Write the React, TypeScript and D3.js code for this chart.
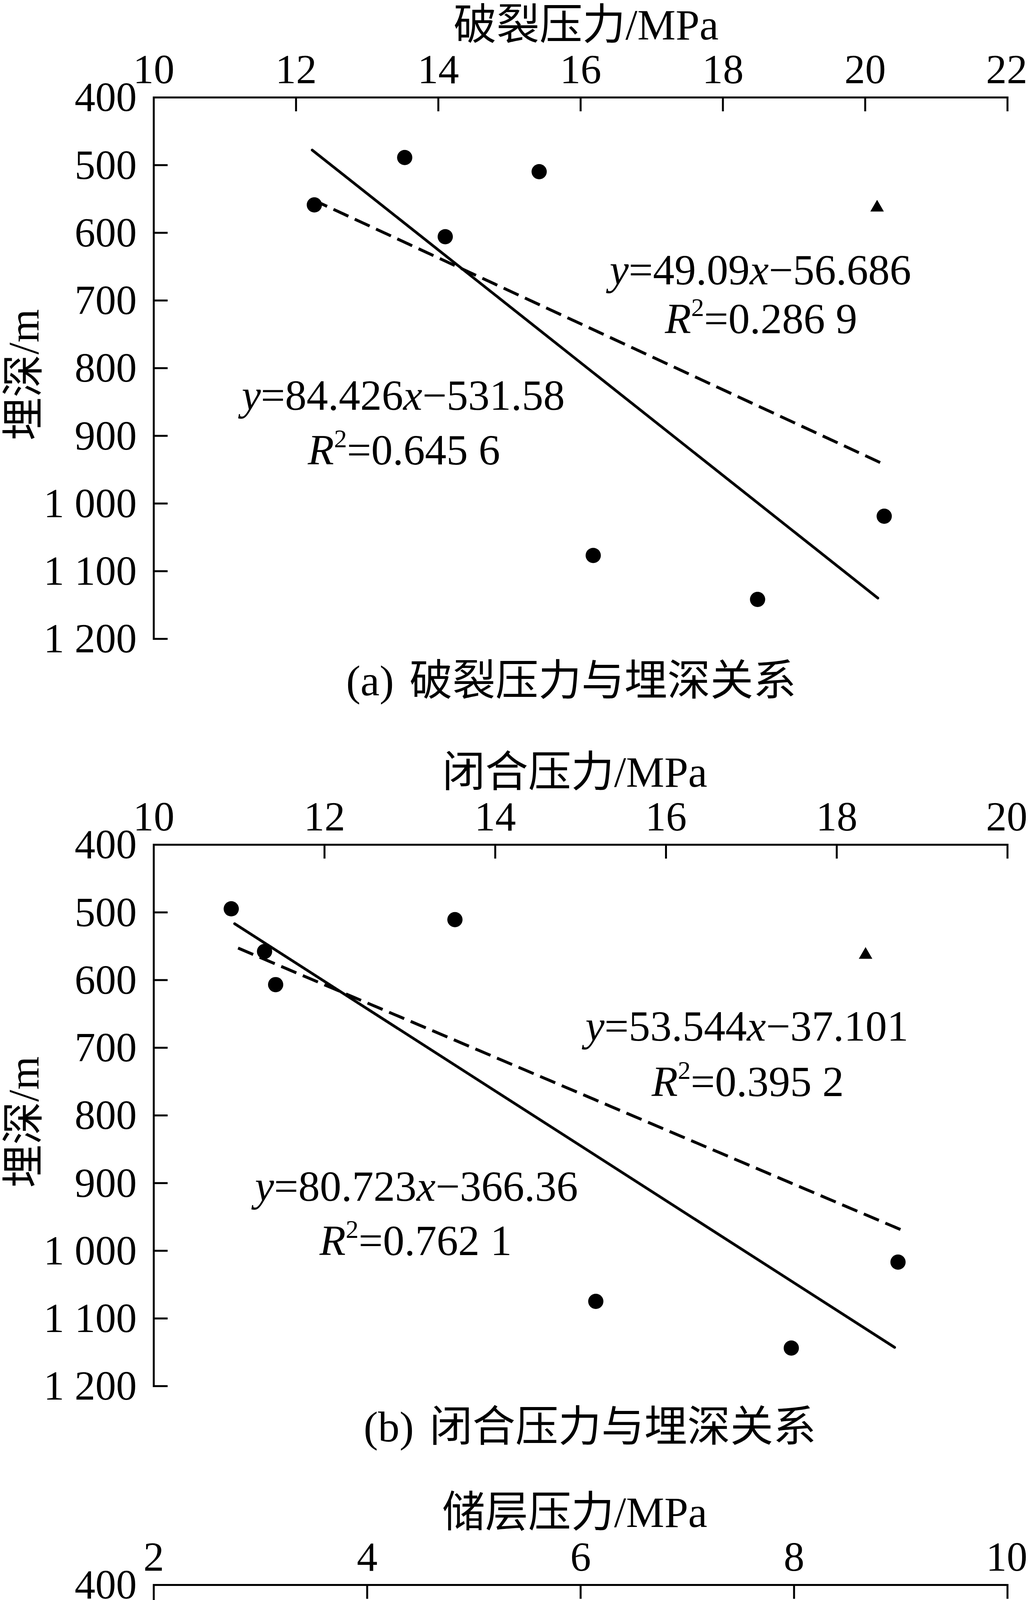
import { useRef, useEffect } from 'react';
import * as d3 from 'd3';

const depthTicks = [400, 500, 600, 700, 800, 900, 1000, 1100, 1200];

// (a) 破裂压力
const fracTicks = [10, 12, 14, 16, 18, 20, 22];
const fracPressure = [12.26, 13.53, 15.42, 14.1, 20.27, 16.18, 18.49];
const fracDepth = [559, 489, 510, 606, 1019, 1077, 1142];
const fracTriangle = [20.17, 563];
const fracDashed = [[12.23, 551], [20.28, 943]];
const fracSolid = [[12.23, 478], [20.18, 1140]];
const fracLabels = ['y=49.09x−56.686', '0.286 9', 'y=84.426x−531.58', '0.645 6'];

// (b) 闭合压力
const closeTicks = [10, 12, 14, 16, 18, 20];
const closePressure = [10.91, 13.53, 11.3, 11.43, 18.72, 15.18, 17.47];
const closeDepth = [495, 511, 558, 607, 1017, 1075, 1144];
const closeTriangle = [18.34, 563];
const closeDashed = [[10.99, 553], [18.77, 970]];
const closeSolid = [[10.95, 517], [18.68, 1143]];
const closeLabels = ['y=53.544x−37.101', '0.395 2', 'y=80.723x−366.36', '0.762 1'];

// (c) 储层压力
const resTicks = [2, 4, 6, 8, 10];
const resPressure = [3.08, 5.05, 3.88, 4.02, 9.58, 9.71, 8.77];
const resDepth = [497, 512, 556, 605, 1017, 1072, 1142];
const resTriangle = [5.44, 563];
const resDashed = [[3.13, 448], [9.8, 1090]];
const resSolid = [[3.07, 466], [9.75, 1094]];
const resLabels = ['y=96.188x+147.01', '0.891 8', 'y=94.366x+173.77', '0.909 6'];

const W = 2631;
const H = 5742;
const AXIS_L = 393;
const AXIS_R = 2578;
const PANEL_H = 1386;
const FS = 110;
const TICK_FS = 106;
const FONT = "'Liberation Serif', 'Times New Roman', 'Noto Sans CJK SC', serif";

const panels = [
  {
    top: 249, title: '破裂压力/MPa', tag: '(a)', caption: '破裂压力与埋深关系',
    ticks: fracTicks, pressure: fracPressure, depth: fracDepth, triangle: fracTriangle,
    dashed: fracDashed, solid: fracSolid, labels: fracLabels,
    // label anchors in data units: dashed eq, dashed R2, solid eq, solid R2
    anchors: [[18.53, 655], [18.54, 727], [13.51, 840], [13.52, 921]],
    captionX: 1462, captionY: 1740, titleX: 1500
  },
  {
    top: 2162, title: '闭合压力/MPa', tag: '(b)', caption: '闭合压力与埋深关系',
    ticks: closeTicks, pressure: closePressure, depth: closeDepth, triangle: closeTriangle,
    dashed: closeDashed, solid: closeSolid, labels: closeLabels,
    anchors: [[16.95, 668], [16.96, 750], [13.08, 905], [13.07, 985]],
    captionX: 1510, captionY: 3650, titleX: 1471
  },
  {
    top: 4057, title: '储层压力/MPa', tag: '(c)', caption: '储层压力与埋深关系',
    ticks: resTicks, pressure: resPressure, depth: resDepth, triangle: resTriangle,
    dashed: resDashed, solid: resSolid, labels: resLabels,
    anchors: [[7.59, 641], [7.63, 717], [5.28, 872], [5.29, 947]],
    captionX: 1568, captionY: 5650, titleX: 1471
  }
];

const fmtDepth = (d: number) =>
  d >= 1000 ? `${Math.floor(d / 1000)} ${String(d % 1000).padStart(3, '0')}` : String(d);

export default function App() {
  const svgRef = useRef<SVGSVGElement>(null);

  useEffect(() => {
    if (!svgRef.current) return;
    const svg = d3.select(svgRef.current);
    svg.selectAll('*').remove();

    svg.append('rect').attr('width', W).attr('height', H).attr('fill', '#fff');

    panels.forEach(p => {
      const g = svg.append('g');
      const x = d3.scaleLinear()
        .domain([p.ticks[0], p.ticks[p.ticks.length - 1]])
        .range([AXIS_L, AXIS_R]);
      const y = d3.scaleLinear()
        .domain([depthTicks[0], depthTicks[depthTicks.length - 1]])
        .range([p.top, p.top + PANEL_H]);

      // top x axis, ticks pointing down into the plot
      const xAxis = g.append('g')
        .attr('transform', `translate(0,${p.top})`)
        .call(d3.axisTop(x).tickValues(p.ticks).tickSizeInner(-36).tickSizeOuter(0).tickPadding(36));

      // left y axis, ticks pointing right
      const yAxis = g.append('g')
        .attr('transform', `translate(${AXIS_L},0)`)
        .call(d3.axisLeft(y).tickValues(depthTicks).tickFormat(d => fmtDepth(+d))
          .tickSizeInner(-36).tickSizeOuter(0).tickPadding(43));

      [xAxis, yAxis].forEach(a => {
        a.attr('font-family', FONT).attr('font-size', TICK_FS);
        a.select('.domain').attr('stroke', '#000').attr('stroke-width', 5).attr('stroke-linecap', 'square');
        a.selectAll('.tick line').attr('stroke', '#000').attr('stroke-width', 5);
        a.selectAll('.tick text').attr('fill', '#000');
      });
      xAxis.selectAll('.tick text').attr('dy', 0);
      // last label sits against the page edge
      xAxis.selectAll<SVGTextElement, number>('.tick text')
        .filter(d => d === p.ticks[p.ticks.length - 1])
        .attr('dx', -2);
      yAxis.selectAll('.tick text').attr('dy', '0.33em');

      // axis titles
      g.append('text')
        .attr('x', p.titleX)
        .attr('y', p.top - 188 + FS * 0.36)
        .attr('text-anchor', 'middle')
        .attr('font-family', FONT)
        .attr('font-size', FS)
        .text(p.title);

      g.append('text')
        .attr('transform', `translate(98,${y(810)}) rotate(-90)`)
        .attr('text-anchor', 'middle')
        .attr('font-family', FONT)
        .attr('font-size', FS)
        .text('埋深/m');

      // regression lines
      const line = d3.line<number[]>().x(d => x(d[0])).y(d => y(d[1]));
      g.append('path')
        .attr('d', line(p.solid))
        .attr('fill', 'none')
        .attr('stroke', '#000')
        .attr('stroke-width', 7)
        .attr('stroke-linecap', 'round');
      g.append('path')
        .attr('d', line(p.dashed))
        .attr('fill', 'none')
        .attr('stroke', '#000')
        .attr('stroke-width', 7.5)
        .attr('stroke-dasharray', '42 18');

      // well points
      g.selectAll('circle.pt')
        .data(p.pressure)
        .join('circle')
        .attr('class', 'pt')
        .attr('cx', d => x(d))
        .attr('cy', (_, i) => y(p.depth[i]))
        .attr('r', 19.5)
        .attr('fill', '#000');

      g.append('path')
        .attr('d', d3.symbol().type(d3.symbolTriangle).size(520)())
        .attr('transform', `translate(${x(p.triangle[0])},${y(p.triangle[1])})`)
        .attr('fill', '#000');

      // equation labels
      p.labels.forEach((lab, i) => {
        const [ax, ay] = p.anchors[i];
        const t = g.append('text')
          .attr('x', x(ax))
          .attr('y', y(ay) + FS * 0.34)
          .attr('text-anchor', 'middle')
          .attr('font-family', FONT)
          .attr('font-size', FS);
        if (i % 2 === 0) {
          lab.split(/([xy])/).filter(s => s.length).forEach(s => {
            const ts = t.append('tspan').text(s);
            if (s === 'x' || s === 'y') ts.attr('font-style', 'italic');
          });
        } else {
          t.append('tspan').attr('font-style', 'italic').text('R');
          t.append('tspan').attr('font-size', 66).attr('dy', -44).text('2');
          t.append('tspan').attr('dy', 44).text('=' + lab);
        }
      });

      // caption
      const cap = g.append('text')
        .attr('x', p.captionX)
        .attr('y', p.captionY + FS * 0.36)
        .attr('text-anchor', 'middle')
        .attr('font-family', FONT)
        .attr('font-size', FS);
      cap.append('tspan').text(p.tag);
      cap.append('tspan').attr('dx', 40).text(p.caption);
    });
  }, []);

  return (
    <div style={{ position: 'absolute', left: 0, top: 0 }}>
      <svg ref={svgRef} width={W} height={H} style={{ display: 'block' }}></svg>
    </div>
  );
}
